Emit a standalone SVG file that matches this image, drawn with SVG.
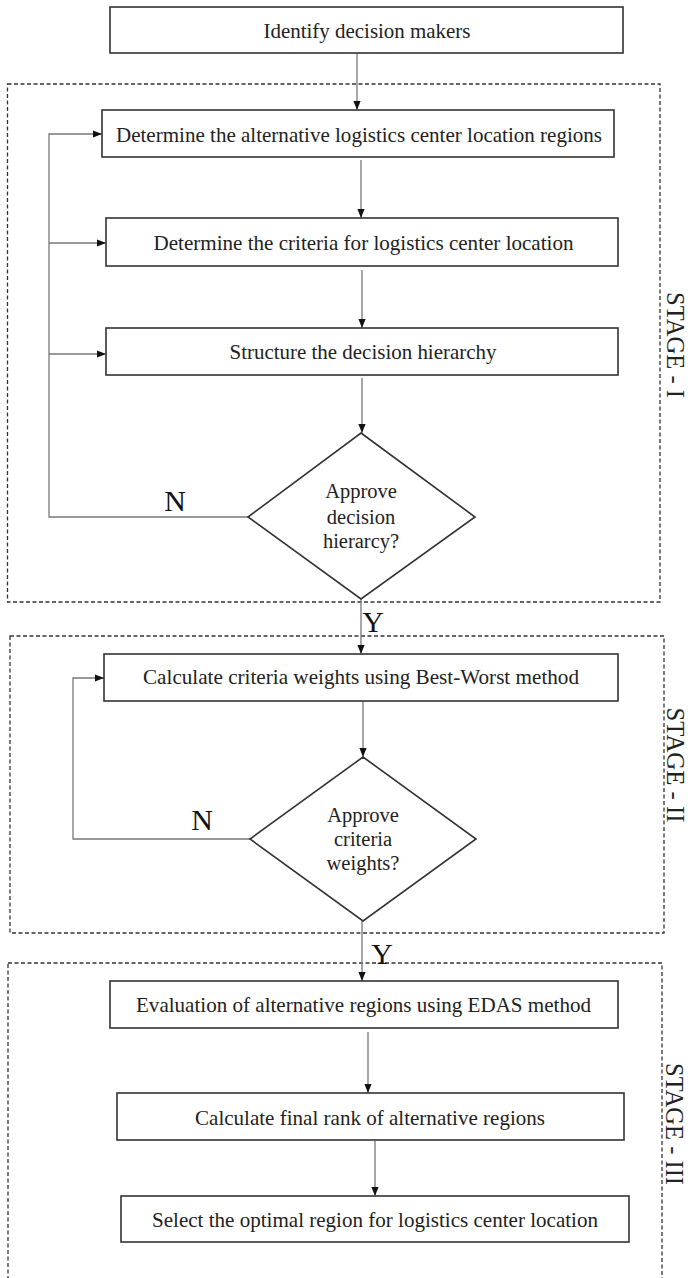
<svg xmlns="http://www.w3.org/2000/svg" width="690" height="1278" viewBox="0 0 690 1278">
<style>
.box{fill:#fff;stroke:#333;stroke-width:1.6}
.dash{fill:none;stroke:#333;stroke-width:1.3;stroke-dasharray:4,2.5}
.con{fill:none;stroke:#777;stroke-width:1.3}
.t{font-family:"Liberation Serif","Times New Roman",serif;font-size:22px;fill:#222;text-anchor:middle}
.d{font-family:"Liberation Serif","Times New Roman",serif;font-size:20.5px;fill:#222;text-anchor:middle}
.lab{font-family:"Liberation Serif","Times New Roman",serif;font-size:30px;fill:#111;text-anchor:middle}
.stg{font-family:"Liberation Serif","Times New Roman",serif;font-size:26px;fill:#222;text-anchor:middle}
</style>
<defs>
<marker id="arr" viewBox="0 0 10 10" refX="10" refY="5" markerWidth="9" markerHeight="9" markerUnits="userSpaceOnUse" orient="auto"><path d="M0,1 L10,5 L0,9 z" fill="#111"/></marker>
</defs>
<g id="stages">
<rect class="dash" x="7.5" y="84" width="652.5" height="518"/>
<rect class="dash" x="10" y="636" width="654" height="297"/>
<rect class="dash" x="8" y="963" width="654" height="330"/>
<text class="stg" transform="translate(667,345) rotate(90)" textLength="106" lengthAdjust="spacingAndGlyphs">STAGE - I</text>
<text class="stg" transform="translate(667,765) rotate(90)" textLength="115" lengthAdjust="spacingAndGlyphs">STAGE - II</text>
<text class="stg" transform="translate(666,1124) rotate(90)" textLength="122" lengthAdjust="spacingAndGlyphs">STAGE - III</text>
</g>
<g id="connectors">
<path class="con" d="M357,53 V110" marker-end="url(#arr)"/>
<path class="con" d="M361,160 V218" marker-end="url(#arr)"/>
<path class="con" d="M362,270 V328" marker-end="url(#arr)"/>
<path class="con" d="M362,378 V433" marker-end="url(#arr)"/>
<path class="con" d="M248,517 H49 V134 H102" marker-end="url(#arr)"/>
<path class="con" d="M49,243 H106" marker-end="url(#arr)"/>
<path class="con" d="M49,354 H106" marker-end="url(#arr)"/>
<path class="con" d="M361,599 V654" marker-end="url(#arr)"/>
<path class="con" d="M363,701 V757" marker-end="url(#arr)"/>
<path class="con" d="M250,839 H73 V678 H104" marker-end="url(#arr)"/>
<path class="con" d="M362,921 V981" marker-end="url(#arr)"/>
<path class="con" d="M368,1032 V1093" marker-end="url(#arr)"/>
<path class="con" d="M375,1141 V1196" marker-end="url(#arr)"/>
<text class="lab" x="175" y="511">N</text>
<text class="lab" x="373" y="632">Y</text>
<text class="lab" x="202" y="830">N</text>
<text class="lab" x="382" y="964">Y</text>
</g>
<g id="n1"><rect class="box" x="110" y="7" width="513" height="46"/><text class="t" x="367" y="38" textLength="207" lengthAdjust="spacingAndGlyphs">Identify decision makers</text></g>
<g id="n2"><rect class="box" x="102" y="110" width="512" height="47"/><text class="t" x="359" y="142" textLength="486" lengthAdjust="spacingAndGlyphs">Determine the alternative  logistics  center location regions</text></g>
<g id="n3"><rect class="box" x="106" y="218" width="512" height="48"/><text class="t" x="363.5" y="250" textLength="420" lengthAdjust="spacingAndGlyphs">Determine the criteria  for logistics  center location</text></g>
<g id="n4"><rect class="box" x="106" y="328" width="512" height="47"/><text class="t" x="363" y="359" textLength="267" lengthAdjust="spacingAndGlyphs">Structure the decision hierarchy</text></g>
<g id="n5"><path class="box" d="M361,433 L475,517 L361,599 L248,517 Z"/><text class="d" x="361" y="498">Approve</text><text class="d" x="361" y="524">decision</text><text class="d" x="361" y="548">hierarcy?</text></g>
<g id="n6"><rect class="box" x="104" y="654" width="514" height="47"/><text class="t" x="361" y="684" textLength="436" lengthAdjust="spacingAndGlyphs">Calculate criteria  weights using Best-Worst method</text></g>
<g id="n7"><path class="box" d="M363,757 L476,839 L363,921 L250,839 Z"/><text class="d" x="363" y="822">Approve</text><text class="d" x="363" y="846">criteria</text><text class="d" x="363" y="870">weights?</text></g>
<g id="n8"><rect class="box" x="110" y="981" width="508" height="47"/><text class="t" x="363.5" y="1012" textLength="455" lengthAdjust="spacingAndGlyphs">Evaluation of alternative  regions using EDAS method</text></g>
<g id="n9"><rect class="box" x="117" y="1093" width="507" height="47"/><text class="t" x="370" y="1125" textLength="350" lengthAdjust="spacingAndGlyphs">Calculate  final  rank of alternative  regions</text></g>
<g id="n10"><rect class="box" x="121" y="1196" width="508" height="46"/><text class="t" x="375" y="1227" textLength="446" lengthAdjust="spacingAndGlyphs">Select the optimal region for logistics  center location</text></g>
</svg>
